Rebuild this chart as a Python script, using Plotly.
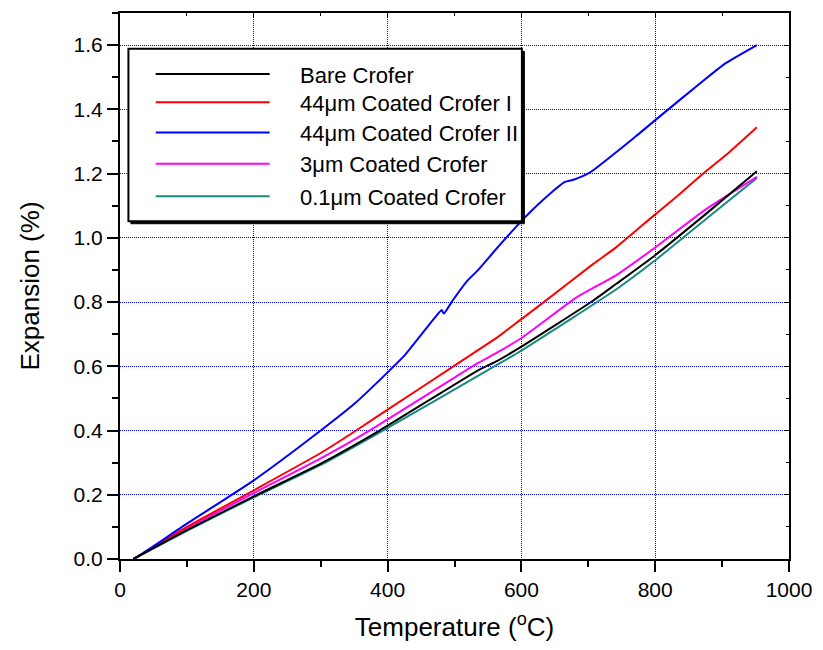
import plotly.graph_objects as go

# ---- data ----
series_names = ["Bare Crofer", "44\u03bcm Coated Crofer I", "44\u03bcm Coated Crofer II",
                "3\u03bcm Coated Crofer", "0.1\u03bcm Coated Crofer"]
series_colors = ["#000000", "#ff0000", "#0000ff", "#ff00ff", "#178a80"]

bare_T = [20, 100, 200, 300, 388, 534, 564, 600, 707, 742, 800, 875, 952]
bare_E = [0, 0.09, 0.195, 0.297, 0.40, 0.586, 0.617, 0.661, 0.804, 0.857, 0.946, 1.073, 1.207]

c44a_T = [20, 100, 200, 300, 353, 400, 500, 534, 564, 600, 633, 707, 742, 800, 831, 870, 912, 952]
c44a_E = [0, 0.10, 0.214, 0.33, 0.40, 0.465, 0.602, 0.649, 0.69, 0.747, 0.799, 0.918, 0.971, 1.073,
          1.126, 1.197, 1.269, 1.344]

c44b_T = [20, 30, 100, 200, 300, 353, 400, 425, 470, 481, 484, 497, 519, 534, 564, 600, 633, 665,
          678, 702, 771, 801, 870, 905, 952]
c44b_E = [0, 0.012, 0.11, 0.245, 0.40, 0.488, 0.581, 0.633, 0.75, 0.775, 0.764, 0.804, 0.866, 0.897,
          0.969, 1.052, 1.119, 1.174, 1.181, 1.203, 1.316, 1.368, 1.486, 1.543, 1.60]

c3_T = [20, 100, 200, 300, 373, 500, 534, 564, 600, 682, 742, 800, 875, 952]
c3_E = [0, 0.095, 0.205, 0.313, 0.40, 0.565, 0.609, 0.643, 0.688, 0.814, 0.884, 0.97, 1.088, 1.19]

c01_T = [20, 100, 200, 300, 393, 564, 600, 742, 800, 875, 952]
c01_E = [0, 0.088, 0.192, 0.293, 0.40, 0.605, 0.649, 0.84, 0.93, 1.057, 1.186]

x_ticks = [0, 200, 400, 600, 800, 1000]
y_ticks = [0.0, 0.2, 0.4, 0.6, 0.8, 1.0, 1.2, 1.4, 1.6]
y_ticklabels = ["0.0", "0.2", "0.4", "0.6", "0.8", "1.0", "1.2", "1.4", "1.6"]

series = [(bare_T, bare_E), (c44a_T, c44a_E), (c44b_T, c44b_E), (c3_T, c3_E), (c01_T, c01_E)]

FONT = "Arial, Liberation Sans, sans-serif"
W, H = 823, 650
L, R, T, B = 120, 28, 11, 91
PW, PH = W - L - R, H - T - B

fig = go.Figure()
for idx in [4, 3, 1, 2, 0]:
    xs, ys = series[idx]
    fig.add_trace(go.Scatter(x=xs, y=ys, mode="lines", name=series_names[idx],
                             line=dict(color=series_colors[idx], width=2,
                                       shape="spline", smoothing=0.5),
                             showlegend=False))

# dummy trace to realise mirrored inner-tick axes
fig.add_trace(go.Scatter(x=[None], y=[None], xaxis="x2", yaxis="y2", showlegend=False,
                         hoverinfo="skip"))

axis_common = dict(showline=True, linecolor="black", linewidth=2, ticks="outside",
                   tickcolor="black", tickwidth=2, ticklen=11,
                   tickfont=dict(family=FONT, size=21, color="black"),
                   showgrid=True, gridcolor="#0000ff", gridwidth=1, griddash="1px,1px",
                   zeroline=False, mirror=True)

fig.update_layout(
    width=W, height=H,
    margin=dict(l=L, r=R, t=T, b=B),
    paper_bgcolor="white", plot_bgcolor="white",
    showlegend=False,
    xaxis=dict(range=[0, 1000], tickvals=x_ticks, ticktext=[str(v) for v in x_ticks],
               minor=dict(dtick=100, ticks="outside", ticklen=6, tickwidth=2, tickcolor="black",
                          showgrid=False),
               title=dict(text="Temperature (<sup>o</sup>C)", font=dict(family=FONT, size=26,
                                                                         color="black"),
                          standoff=18),
               **axis_common),
    yaxis=dict(range=[0, 1.7], tickvals=y_ticks, ticktext=y_ticklabels,
               minor=dict(dtick=0.1, ticks="outside", ticklen=6, tickwidth=2, tickcolor="black",
                          showgrid=False),
               title=dict(text="Expansion (%)", font=dict(family=FONT, size=26, color="black"),
                          standoff=26),
               **axis_common),
    xaxis2=dict(overlaying="x", side="top", range=[0, 1000], tickvals=x_ticks,
                showticklabels=False, ticks="inside", ticklen=5, tickwidth=1, tickcolor="black",
                minor=dict(dtick=100, ticks="inside", ticklen=3, tickcolor="black"),
                showgrid=False, zeroline=False, showline=False),
    yaxis2=dict(overlaying="y", side="right", range=[0, 1.7], tickvals=y_ticks,
                showticklabels=False, ticks="inside", ticklen=5, tickwidth=1, tickcolor="black",
                minor=dict(dtick=0.1, ticks="inside", ticklen=3, tickcolor="black"),
                showgrid=False, zeroline=False, showline=False),
)

# ---- manual legend (pixel layout converted to paper coords) ----
def px(xp):
    return (xp - L) / PW

def py(yp):
    return (H - B - yp) / PH

bx0, bx1, by0, by1 = 128.5, 525.5, 47, 220
shapes = [
    dict(type="rect", xref="paper", yref="paper", layer="above",
         x0=px(bx0 + 2.5), x1=px(bx1 + 2.5), y0=py(by1 + 2.5), y1=py(by0 + 2.5),
         fillcolor="black", line=dict(color="black", width=1)),
    dict(type="rect", xref="paper", yref="paper", layer="above",
         x0=px(bx0), x1=px(bx1), y0=py(by1), y1=py(by0),
         fillcolor="white", line=dict(color="black", width=2)),
]
row_y = [72.3, 100.7, 131, 162.3, 195]
annotations = []
for i, name in enumerate(series_names):
    shapes.append(dict(type="line", xref="paper", yref="paper", layer="above",
                       x0=px(156), x1=px(271), y0=py(row_y[i]), y1=py(row_y[i]),
                       line=dict(color=series_colors[i], width=2)))
    annotations.append(dict(xref="paper", yref="paper", x=px(300), y=py(row_y[i] + 1),
                            xanchor="left", yanchor="middle", showarrow=False, text=name,
                            font=dict(family=FONT, size=22, color="black")))

fig.update_layout(shapes=shapes, annotations=annotations)

fig.write_html("out.html", config={"displayModeBar": False},
               post_script="document.body.style.margin='0';document.body.style.overflow='hidden';")
